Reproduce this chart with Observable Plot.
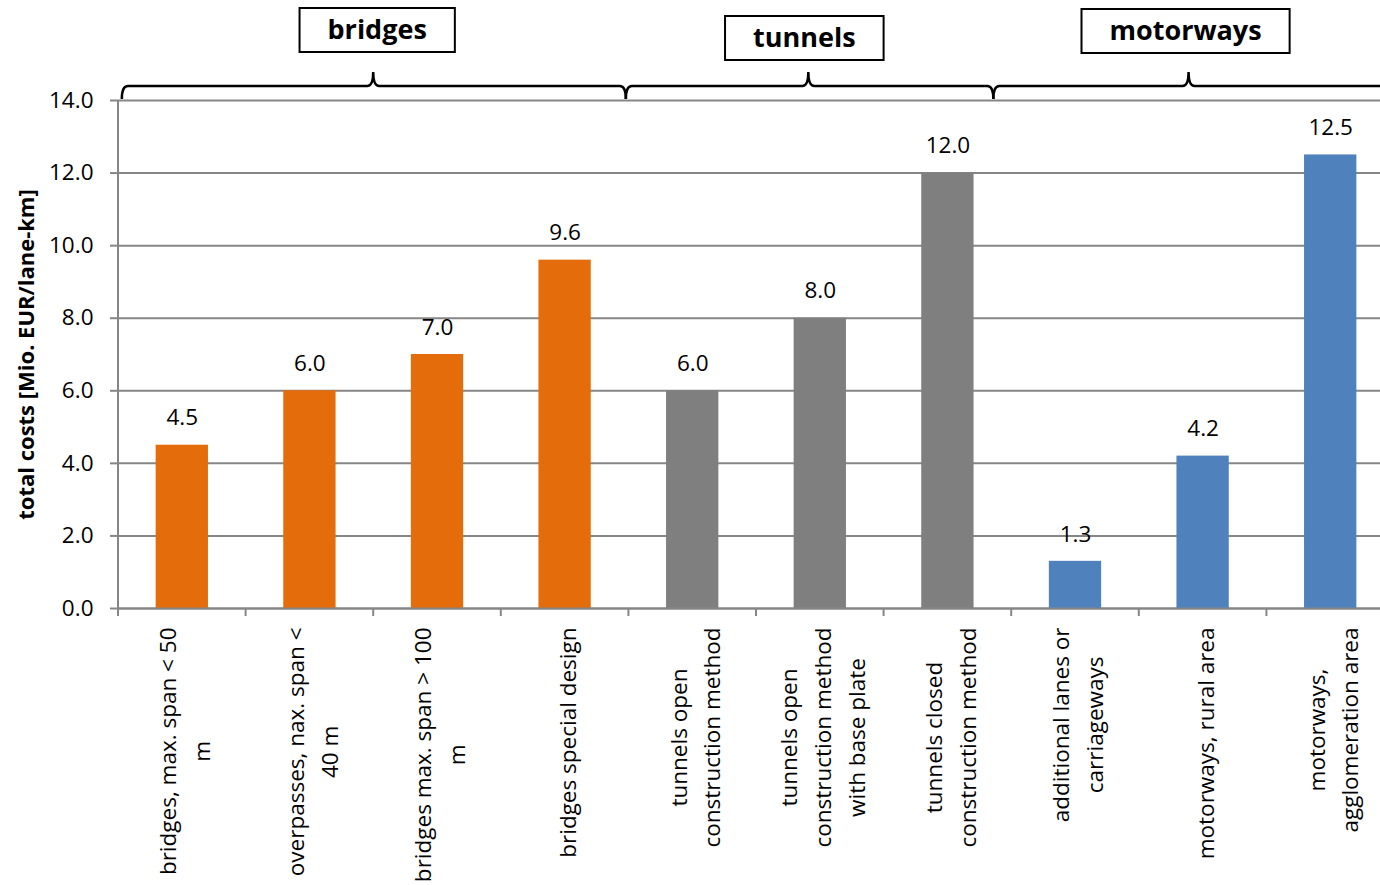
<!DOCTYPE html>
<html><head><meta charset="utf-8">
<script src="https://cdn.jsdelivr.net/npm/d3@7"></script>
<script src="https://cdn.jsdelivr.net/npm/@observablehq/plot@0.6"></script>
<style>
html,body{margin:0;padding:0;background:#fff;overflow:hidden;}
#chart{width:1380px;height:885px;overflow:hidden;}
</style></head><body><div id="chart"></div>
<script>
// ---- data ----
const categories = [
  "bridges, max. span < 50\nm",
  "overpasses, nax. span <\n40 m",
  "bridges max. span > 100\nm",
  "bridges special design",
  "tunnels open\nconstruction method",
  "tunnels open\nconstruction method\nwith base plate",
  "tunnels closed\nconstruction method",
  "additional lanes or\ncarriageways",
  "motorways, rural area",
  "motorways,\nagglomeration area"
];
const values = [4.5, 6.0, 7.0, 9.6, 6.0, 8.0, 12.0, 1.3, 4.2, 12.5];
const categoryGroup = ["bridges","bridges","bridges","bridges","tunnels","tunnels","tunnels","motorways","motorways","motorways"];
const groups = ["bridges", "tunnels", "motorways"];
const groupColors = ["#E46C0A", "#7F7F7F", "#4F81BD"];
const yTicks = [0, 2, 4, 6, 8, 10, 12, 14];
const yLabel = "total costs [Mio. EUR/lane-km]";

const data = categories.map((c, i) => ({cat: c, value: values[i], group: categoryGroup[i]}));

const FONT = "'Open Sans'";
const canvas = document.createElement("canvas");
const ctx = canvas.getContext("2d");
function measure(t, size, weight = "normal") {
  ctx.font = `${weight} ${size}px ${FONT}`;
  return ctx.measureText(t).width;
}
const TEXT_SIZE = 22.5;
const TITLE_SIZE = 27;

// per-category rotated labels (block top-aligned at axis, lines centred)
const labelMarks = categories.map((c) => {
  const maxW = d3.max(c.split("\n"), l => measure(l, TEXT_SIZE));
  return Plot.text([c], {
    x: d => d, frameAnchor: "bottom", rotate: -90,
    textAnchor: "middle", lineAnchor: "middle", lineHeight: 1.5,
    dy: 19 + maxW / 2, fontSize: TEXT_SIZE, fill: "#000"
  });
});

// decorations: axis line, boundary ticks, braces, group boxes
function decorations(index, scales, values, dims) {
  const x = scales.x, y = scales.y;
  const bw = x.bandwidth();
  const c0 = x(categories[0]) + bw / 2;
  const step = x(categories[1]) - x(categories[0]);
  const pos = i => c0 + i * step;
  const g = d3.create("svg:g");
  const y0 = y(0), yTop = y(14);
  g.append("line").attr("x1", pos(-0.5)).attr("x2", pos(-0.5)).attr("y1", yTop).attr("y2", y0 + 8)
    .attr("stroke", "#868686").attr("stroke-width", 2);
  for (let k = 0; k <= categories.length; k++) {
    g.append("line").attr("x1", pos(k - 0.5)).attr("x2", pos(k - 0.5)).attr("y1", y0).attr("y2", y0 + 8)
      .attr("stroke", "#868686").attr("stroke-width", 2);
  }
  const spans = [[-0.47, 1.5, 3.48], [3.48, 4.91, 6.36], [6.36, 7.89, 9.6]];
  const boxShift = [[4, -92], [-4, -84], [-3, -91]];
  const yL = yTop - 14, yE = yTop - 1, yP = yTop - 28, r = 6;
  groups.forEach((name, i) => {
    const [a, m, b] = spans[i].map(pos);
    const p = `M${a},${yE} Q${a},${yL} ${a + r},${yL} L${m - r},${yL} Q${m},${yL} ${m},${yP} Q${m},${yL} ${m + r},${yL} L${b - r},${yL} Q${b},${yL} ${b},${yE}`;
    g.append("path").attr("d", p).attr("fill", "none").attr("stroke", "#000").attr("stroke-width", 2.5);
    const tw = measure(name, TITLE_SIZE, "bold");
    const cx = m + boxShift[i][0];
    const by = yTop + boxShift[i][1];
    const bwid = tw + 56, bh = 44;
    g.append("rect").attr("x", cx - bwid / 2).attr("y", by).attr("width", bwid).attr("height", bh)
      .attr("fill", "#fff").attr("stroke", "#000").attr("stroke-width", 2);
    g.append("text").attr("x", cx).attr("y", by + bh / 2).attr("dy", "0.35em")
      .attr("text-anchor", "middle").attr("font-weight", "bold").attr("font-size", TITLE_SIZE)
      .attr("fill", "#000").text(name);
  });
  return g.node();
}

const chart = Plot.plot({
  width: 1395, height: 885,
  marginTop: 100, marginBottom: 277, marginLeft: 118, marginRight: 1,
  style: {fontFamily: FONT, background: "#fff", overflow: "visible", maxWidth: "none"},
  x: {domain: categories, paddingInner: 0.59, paddingOuter: 0.295, round: false, axis: null},
  y: {domain: [0, 14], axis: null},
  color: {domain: groups, range: groupColors},
  marks: [
    Plot.gridY(yTicks, {stroke: "#868686", strokeOpacity: 1, strokeWidth: 2}),
    Plot.axisY(yTicks, {tickSize: 8, tickPadding: 17, tickFormat: d3.format(".1f"), fontSize: TEXT_SIZE,
      stroke: "#868686", strokeWidth: 2, fill: "#000", label: null}),
    Plot.barY(data, {x: "cat", y: "value", fill: "group"}),
    Plot.ruleY([0], {stroke: "#868686", strokeWidth: 2}),
    Plot.text(data, {x: "cat", y: "value", text: d => d.value.toFixed(1), dy: -27, fontSize: TEXT_SIZE, fill: "#000"}),
    Plot.text([yLabel], {text: d => d, frameAnchor: "left", textAnchor: "middle", rotate: -90, dx: -92, fontSize: 22,
      fontWeight: "bold", fill: "#000"}),
    ...labelMarks,
    decorations
  ]
});
document.getElementById("chart").append(chart);
</script></body></html>
